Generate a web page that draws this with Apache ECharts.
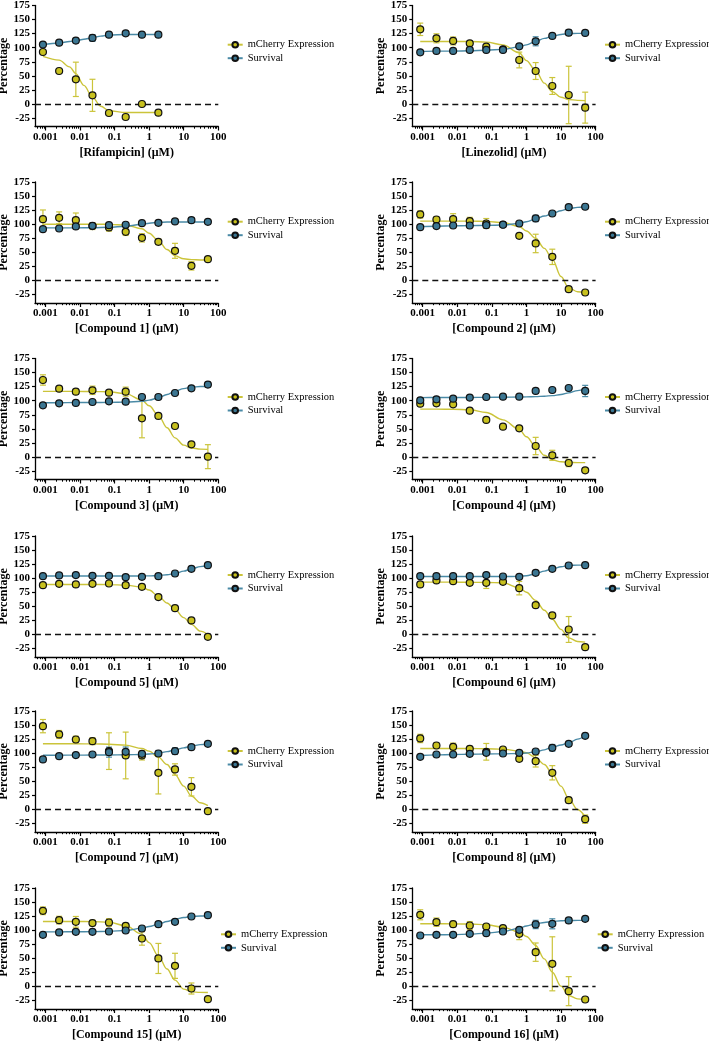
<!DOCTYPE html>
<html><head><meta charset="utf-8">
<script src="https://cdn.jsdelivr.net/npm/echarts@6/dist/echarts.min.js"></script>
<style>html,body{margin:0;padding:0;background:#fff}#c{width:709px;height:1042px}</style>
</head><body><div id="c"></div><script>
// ---------------- DATA ----------------
const conc = [0.00085, 0.0025, 0.0076, 0.023, 0.069, 0.21, 0.62, 1.85, 5.6, 16.7, 50];
const compounds = ['Rifampicin', 'Linezolid', 'Compound 1', 'Compound 2', 'Compound 3', 'Compound 4',
  'Compound 5', 'Compound 6', 'Compound 7', 'Compound 8', 'Compound 15', 'Compound 16'];
const xTickValues = [0.001, 0.01, 0.1, 1, 10, 100];
const xTickLabels = ['0.001', '0.01', '0.1', '1', '10', '100'];
const yTickValues = [-25, 0, 25, 50, 75, 100, 125, 150, 175];
const seriesNames = ['mCherry Expression', 'Survival'];

const mCherry = [
  [92.4, 58.6, 43.8, 15.4, -16, -23.1, 0, -15.4],
  [132.7, 116.7, 112, 107.8, 101.9, 97.2, 78.2, 58.6, 32, 16, -6.5],
  [109, 111.4, 107.2, 96.6, 94.2, 86.5, 75.8, 68.7, 52.7, 26, 37.9],
  [117.3, 108.4, 109, 105.5, 101.3, 99.5, 79.4, 65.8, 42, -15.4, -21.3],
  [136.8, 121.4, 116.1, 118.5, 114.3, 116.1, 68.7, 72.9, 55.1, 22.5, 0.6],
  [94.8, 95.4, 93.6, 82.3, 65.8, 53.9, 50.9, 19.5, 3, -10.7, -23.7],
  [87.7, 90, 88.9, 90, 90.6, 87.7, 84.7, 66.4, 46.8, 24.9, -4.1],
  [88.9, 96, 94.8, 91.8, 91.8, 93.6, 82.3, 52.1, 33.8, 8.9, -22.5],
  [148.1, 133.3, 124.4, 121.4, 103.7, 96, 96, 65.2, 71.1, 40.3, -3],
  [126.2, 113.7, 111.4, 107.8, 102.5, 106.6, 90, 85.9, 65.2, 16.6, -17.2],
  [134.5, 117.9, 114.9, 112.6, 113.7, 107.8, 85.3, 49.8, 36.7, -3.6, -22.5],
  [127.4, 114.3, 110.8, 108.4, 106.6, 103.7, 93.6, 61, 40.3, -8.3, -23.1]
];
const mCherrySD = [
  [4, 0, 30.5, 28.5, 0, 0, 0, 0],
  [11, 8, 7, 3.5, 3, 0, 14, 15, 15, 51, 27.5],
  [16.3, 10.5, 12.7, 6, 6.5, 6.5, 7.4, 5, 13.3, 7.4, 0],
  [6.5, 5, 9.7, 6.7, 8.8, 3, 3.6, 16.4, 13.6, 0, 0],
  [9.2, 3.4, 4.5, 7.4, 3.5, 8, 34.6, 0, 0, 0, 21.3],
  [4.5, 4.5, 0, 3, 0, 0, 3, 15.4, 8.9, 6.5, 0],
  [0, 0, 0, 0, 0, 3, 4.5, 4, 0, 0, 0],
  [0, 0, 0, 3, 10, 0, 11.9, 0, 0, 23, 0],
  [11.8, 7.1, 5.9, 6.2, 32.6, 41.5, 8, 37.6, 10.1, 16.3, 0],
  [7.4, 4.5, 6.5, 4.5, 14.8, 3, 4.5, 10.4, 12.7, 5, 7.4],
  [6.8, 6.8, 9.5, 5.3, 6.8, 4.5, 11.9, 26.7, 22.3, 9.8, 0],
  [8.9, 7.4, 5, 7, 3.6, 0, 10.4, 16.3, 48, 25.8, 0]
];
const survival = [
  [105.5, 109, 112.6, 117.3, 123.2, 125.6, 123.2, 123.2],
  [91.8, 94.2, 94.2, 96, 96, 96, 102.5, 111.4, 120.9, 126.8, 126.2],
  [91.2, 92.4, 96, 97.2, 98.3, 99, 101.9, 102.5, 104.9, 107.2, 104.3],
  [94.8, 96.6, 97.7, 97.7, 98.3, 99, 101.3, 110.2, 119, 130.3, 131],
  [91.8, 95.4, 96, 97.7, 98.9, 98.3, 106.6, 106.6, 113.7, 122, 128.6],
  [100.7, 102.5, 103.7, 105.5, 106.6, 107.2, 107.2, 117.3, 119, 122.6, 117.3],
  [103.7, 104.9, 105.5, 104.3, 104.3, 101.9, 102.5, 103.7, 108.4, 116.7, 123.2],
  [103.7, 103.7, 103.7, 103.7, 105.5, 103, 102.5, 109.6, 116.7, 122.6, 123.2],
  [88.9, 94.8, 96.6, 97.7, 101.9, 102.5, 98.9, 99.5, 103.7, 110.8, 116.7],
  [93.6, 97.7, 97.7, 98.9, 100.7, 99.5, 100.7, 103, 109.6, 116.7, 130.9],
  [91.8, 96, 97.2, 97.2, 97.7, 99.5, 103, 110.8, 114.9, 124.4, 126.7],
  [90.6, 91.8, 91.8, 93.6, 94.8, 97.7, 100.7, 110.2, 111.4, 117.3, 120.3]
];
const survivalSD = [
  [3, 0, 4, 6, 0, 3, 0, 0],
  [0, 0, 0, 0, 0, 0, 3, 8, 0, 5, 3.5],
  [0, 0, 0, 4, 0, 0, 0, 0, 0, 4.5, 0],
  [0, 0, 0, 0, 0, 0, 0, 5.6, 0, 0, 0],
  [0, 0, 0, 0, 0, 0, 0, 0, 0, 0, 4.5],
  [4, 0, 0, 0, 0, 3, 0, 0, 0, 0, 10],
  [0, 0, 0, 0, 0, 0, 0, 0, 0, 0, 0],
  [0, 0, 0, 0, 0, 0, 0, 0, 0, 4, 0],
  [0, 0, 0, 0, 8.9, 8.5, 3.6, 5.3, 5.9, 0, 0],
  [0, 0, 0, 0, 3.5, 0, 0, 3, 5.9, 0, 0],
  [0, 0, 0, 0, 0, 0, 0, 0, 0, 0, 0],
  [0, 0, 0, 0, 0, 0, 0, 7.4, 8.9, 4.5, 0]
];
// fitted curves at these concentrations
const fitConcRif = [0.00085, 0.0025, 0.005, 0.0076, 0.013, 0.023, 0.04, 0.069, 0.21, 0.62, 1.85];
const fitConc = [0.00085, 0.0025, 0.0076, 0.023, 0.069, 0.21, 0.62, 1.0, 1.85, 3.3, 5.6, 10, 16.7, 30, 50];
const mCherryFit = [
  [84.5, 78, 66, 54, 33, 12, -4, -12, -15, -15, -15],
  [111, 111, 111, 111, 110, 105, 91, 77, 59, 37, 22, 12, 8, 6.5, 6],
  [100, 100, 100, 100, 99.8, 98.5, 92, 84, 71, 55, 44, 38.5, 37, 36.5, 36.5],
  [105.5, 105.5, 105.5, 105.5, 105, 103, 96, 88, 75, 57, 38, 7, -13, -20, -21.5],
  [116.5, 116.5, 116.5, 116.3, 116, 112.5, 101, 91, 74, 52, 34, 21, 16, 14, 13.5],
  [85, 85, 84.7, 84, 79, 66, 49, 36, 19, 3, -5, -8.5, -9.5, -10, -10],
  [88.9, 88.9, 88.9, 88.8, 88.6, 87.7, 84, 79, 68, 56, 44.4, 30, 18, 6, 0],
  [93, 93, 93, 92.8, 92.5, 91.8, 83, 75, 60.5, 43, 27, 9, -6, -12.5, -13.6],
  [116.7, 116.7, 116.7, 116.5, 116, 114.3, 108.4, 103.7, 93, 80, 62, 41.5, 24, 12, 7],
  [108.4, 108.4, 108.4, 108.3, 108, 107.2, 103.7, 100.7, 91.8, 80, 63.4, 41.5, 19.5, 0, -13],
  [115.5, 115.5, 115.5, 115.2, 114.3, 107.8, 93, 78, 54.5, 31, 11.3, -4.7, -9.5, -10.5, -10.7],
  [111.4, 111.4, 111.3, 111, 109.6, 105.5, 96.6, 88.9, 72.9, 49, 25.5, 0.6, -16, -22, -23]
];
const survivalFit = [
  [105, 108.5, 111, 112.5, 115, 117.8, 120.5, 122.3, 123.5, 123.5, 123.5],
  [93.5, 94, 94, 94.5, 95.5, 97, 101.5, 105, 111, 116.5, 120.5, 123.5, 125, 125.5, 125.5],
  [93.5, 93.5, 93.5, 93.7, 94.5, 96.5, 100, 101.8, 103.2, 103.8, 104, 104, 104, 104, 104],
  [96, 96.5, 97, 97.5, 98, 98.5, 101.5, 104.5, 109.5, 114.5, 119, 124, 127.5, 130, 130.5],
  [96.5, 96.5, 96.7, 96.8, 97, 97.5, 99, 101, 105, 111, 117, 121.5, 124, 125.2, 125.5],
  [105.5, 105.6, 105.7, 105.8, 106, 106.2, 106.5, 106.8, 107.3, 108, 109, 111, 114, 118, 121],
  [104, 104, 104, 104, 104, 104, 104, 104.2, 104.8, 106.2, 108.5, 112.5, 116.7, 120.5, 123],
  [103, 103, 103, 103, 103, 103, 103.3, 104.5, 107.8, 112.6, 116.7, 120.3, 122.6, 123.2, 123.3],
  [96.5, 96.5, 96.6, 96.7, 96.9, 97.2, 97.7, 98.5, 100, 102.8, 106, 109.5, 112.6, 115.2, 116.7],
  [96, 97, 97.7, 98.2, 98.6, 98.9, 99.5, 100.5, 102.5, 106, 110.8, 114.5, 118.5, 125, 131],
  [97, 97.1, 97.2, 97.4, 98, 99.5, 103.7, 106.5, 110.8, 115.5, 119.7, 122.5, 124.4, 125.3, 125.6],
  [91.8, 91.9, 92.2, 93, 94.8, 97.7, 103.7, 107.5, 111.4, 113.8, 115.5, 116.7, 117.3, 117.4, 117.4]
];

// ---------------- LAYOUT / STYLE ----------------
const YELLOW = '#c8c11e', YELLOW_LINE = '#cbc43a';
const BLUE = '#3b7692', BLUE_LINE = '#4a8aa6';
const FONT = 'Liberation Serif';
const X_MIN = -3.3, X_MAX = 2;
const colLeft = [35, 412.3];
const rowTop = [5.5, 182, 358.5, 536, 711, 888];
const GW = 183.3, GH = 121;
const legendLeft = [[226.7, 604], [226.7, 604], [226.7, 604], [226.7, 604], [226.7, 604], [220, 596.7]];
const legendRowY = [45.7, 222.7, 398, 576, 752, 935.3];

const lg = v => Math.log10(v);
const majorTicks = xTickValues.map(lg);
const minorTicks = [];
for (let e = -4; e <= 1; e++) for (let k = 2; k <= 9; k++) {
  const v = Math.log10(k * Math.pow(10, e));
  if (v >= X_MIN - 1e-9 && v <= X_MAX + 1e-9) minorTicks.push(v);
}
function xLabel(v) {
  for (let i = 0; i < majorTicks.length; i++) if (Math.abs(majorTicks[i] - v) < 1e-6) return xTickLabels[i];
  return '';
}

const grids = [], xAxes = [], yAxes = [], series = [], legends = [];
const minorXAxes = [];

function errRenderer(color) {
  return function (params, api) {
    const x = api.value(0), lo = api.value(1), hi = api.value(2);
    const a = api.coord([x, hi]), b = api.coord([x, lo]);
    const w = 3;
    const st = { stroke: color, lineWidth: 1.2 };
    return {
      type: 'group', children: [
        { type: 'line', shape: { x1: a[0], y1: a[1], x2: b[0], y2: b[1] }, style: st },
        { type: 'line', shape: { x1: a[0] - w, y1: a[1], x2: a[0] + w, y2: a[1] }, style: st },
        { type: 'line', shape: { x1: b[0] - w, y1: b[1], x2: b[0] + w, y2: b[1] }, style: st }
      ]
    };
  };
}

for (let i = 0; i < 12; i++) {
  const col = i % 2, row = Math.floor(i / 2);
  grids.push({ left: colLeft[col], top: rowTop[row], width: GW, height: GH, containLabel: false, outerBoundsMode: 'none' });
  xAxes.push({
    type: 'value', gridIndex: i, min: X_MIN, max: X_MAX, position: 'bottom',
    axisLine: { show: true, onZero: false, lineStyle: { color: '#000', width: 1.3 } },
    axisTick: { show: true, customValues: majorTicks, length: 4, lineStyle: { color: '#000', width: 1.2 } },
    axisLabel: { customValues: majorTicks, formatter: xLabel, margin: 5, color: '#000', fontFamily: FONT, fontWeight: 'bold', fontSize: 11 },
    splitLine: { show: false },
    name: '[' + compounds[i] + '] (\u03bcM)', nameLocation: 'middle', nameGap: 20,
    nameTextStyle: { color: '#000', fontFamily: FONT, fontWeight: 'bold', fontSize: 12 }
  });
  minorXAxes.push({
    type: 'value', gridIndex: i, min: X_MIN, max: X_MAX, position: 'bottom',
    axisLine: { show: false, onZero: false },
    axisTick: { show: true, customValues: minorTicks, length: 2.2, lineStyle: { color: '#000', width: 1 } },
    axisLabel: { show: false }, splitLine: { show: false }
  });
  yAxes.push({
    type: 'value', gridIndex: i, min: -40, max: 175,
    axisLine: { show: true, onZero: false, lineStyle: { color: '#000', width: 1.3 } },
    axisTick: { show: true, customValues: yTickValues, length: 3, lineStyle: { color: '#000', width: 1.2 } },
    axisLabel: { customValues: yTickValues, margin: 5, color: '#000', fontFamily: FONT, fontWeight: 'bold', fontSize: 11 },
    splitLine: { show: false },
    name: 'Percentage', nameLocation: 'middle', nameGap: 24, nameRotate: 90,
    nameTextStyle: { color: '#000', fontFamily: FONT, fontWeight: 'bold', fontSize: 12 }
  });

  const n = mCherry[i].length;
  const fx = i === 0 ? fitConcRif : fitConc;
  const mErr = [], sErr = [], mPts = [], sPts = [];
  for (let j = 0; j < n; j++) {
    const x = lg(conc[j]);
    mPts.push([x, mCherry[i][j]]);
    sPts.push([x, survival[i][j]]);
    if (mCherrySD[i][j] > 0) mErr.push([x, mCherry[i][j] - mCherrySD[i][j], mCherry[i][j] + mCherrySD[i][j]]);
    if (survivalSD[i][j] > 0) sErr.push([x, survival[i][j] - survivalSD[i][j], survival[i][j] + survivalSD[i][j]]);
  }
  const mFit = fx.map((c, j) => [lg(c), mCherryFit[i][j]]);
  const sFit = fx.map((c, j) => [lg(c), survivalFit[i][j]]);

  series.push({
    name: seriesNames[0], type: 'line', xAxisIndex: i, yAxisIndex: i, data: mFit,
    smooth: 0.35, smoothMonotone: 'x', showSymbol: false, symbol: 'circle', symbolSize: 7,
    itemStyle: { color: YELLOW, borderColor: '#111', borderWidth: 1.2 },
    lineStyle: { color: YELLOW_LINE, width: 1.4 }, z: 3, silent: true,
    markLine: {
      silent: true, symbol: 'none', label: { show: false },
      lineStyle: { color: '#111', width: 1.3, type: [6, 4] },
      data: [{ yAxis: 0 }], animation: false
    }
  });
  series.push({
    name: seriesNames[1], type: 'line', xAxisIndex: i, yAxisIndex: i, data: sFit,
    smooth: 0.35, smoothMonotone: 'x', showSymbol: false, symbol: 'circle', symbolSize: 7,
    itemStyle: { color: BLUE, borderColor: '#111', borderWidth: 1.2 },
    lineStyle: { color: BLUE_LINE, width: 1.4 }, z: 3, silent: true
  });
  series.push({
    type: 'custom', xAxisIndex: i, yAxisIndex: i, data: mErr, renderItem: errRenderer(YELLOW_LINE),
    encode: { x: 0, y: [1, 2] }, z: 2, silent: true
  });
  series.push({
    type: 'custom', xAxisIndex: i, yAxisIndex: i, data: sErr, renderItem: errRenderer(BLUE_LINE),
    encode: { x: 0, y: [1, 2] }, z: 2, silent: true
  });
  series.push({
    name: seriesNames[0], type: 'scatter', xAxisIndex: i, yAxisIndex: i, data: mPts,
    symbol: 'circle', symbolSize: 7, itemStyle: { color: YELLOW, borderColor: '#111', borderWidth: 1.2, opacity: 1 }, z: 5
  });
  series.push({
    name: seriesNames[1], type: 'scatter', xAxisIndex: i, yAxisIndex: i, data: sPts,
    symbol: 'circle', symbolSize: 7, itemStyle: { color: BLUE, borderColor: '#111', borderWidth: 1.2, opacity: 1 }, z: 6
  });

  legends.push({
    data: seriesNames, orient: 'vertical', left: legendLeft[row][col], top: legendRowY[row] - 6.5,
    padding: 0, itemGap: 2.5, itemWidth: 15, itemHeight: 7,
    textStyle: { color: '#000', fontFamily: FONT, fontSize: 10.5 },
    selectedMode: false
  });
}

const chart = echarts.init(document.getElementById('c'), null, { renderer: 'canvas' });
chart.setOption({
  backgroundColor: '#fff',
  animation: false,
  grid: grids,
  xAxis: xAxes.concat(minorXAxes),
  yAxis: yAxes,
  legend: legends,
  series: series
});
</script></body></html>
